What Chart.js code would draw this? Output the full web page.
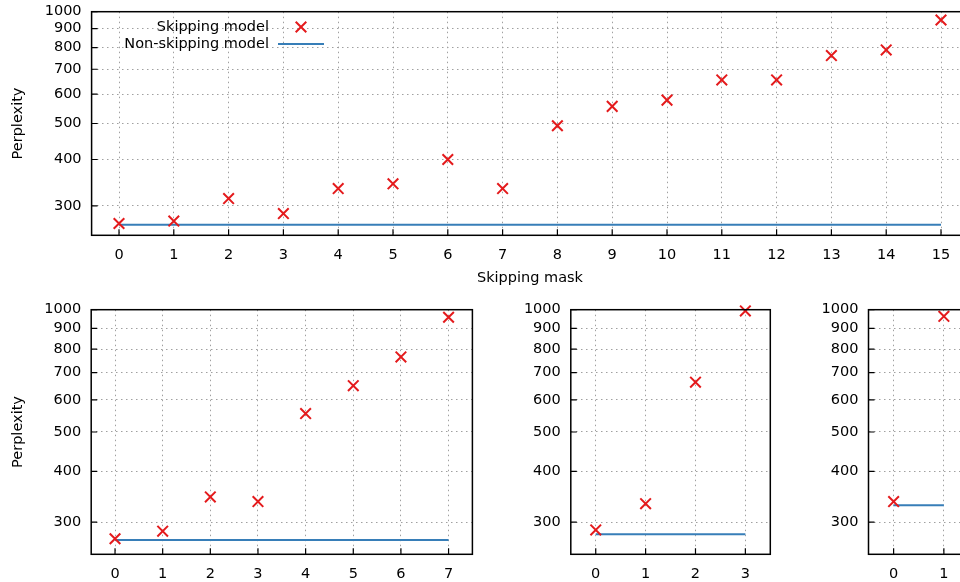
<!DOCTYPE html>
<html><head><meta charset="utf-8">
<script src="https://cdn.jsdelivr.net/npm/chart.js@4/dist/chart.umd.min.js"></script>
<style>
html,body{margin:0;padding:0;width:960px;height:582px;overflow:hidden;background:#fff;position:relative;}
.wrap{position:absolute;}
.wrap canvas{display:block;}
</style></head><body>
<div class="wrap" id="wTop" style="left:0px;top:0px;width:970px;height:295px"><canvas id="cTop"></canvas></div>
<div class="wrap" id="wB8" style="left:0px;top:295px;width:480px;height:287px"><canvas id="cB8"></canvas></div>
<div class="wrap" id="wB4" style="left:480px;top:295px;width:300px;height:287px"><canvas id="cB4"></canvas></div>
<div class="wrap" id="wB2" style="left:780px;top:295px;width:200px;height:287px"><canvas id="cB2"></canvas></div>
<script>
// ---- data ----
const masks16 = ['0','1','2','3','4','5','6','7','8','9','10','11','12','13','14','15'];
const skipping16 = [269, 273, 314, 286, 334, 344, 400, 334, 493, 556, 578, 655, 655, 762, 789, 950];
const nonSkipping16 = [267, 267, 267, 267, 267, 267, 267, 267, 267, 267, 267, 267, 267, 267, 267, 267];

const masks8 = ['0','1','2','3','4','5','6','7'];
const skipping8 = [273, 285, 346, 337, 555, 650, 765, 958];
const nonSkipping8 = [271, 271, 271, 271, 271, 271, 271, 271];

const masks4 = ['0','1','2','3'];
const skipping4 = [287, 333, 663, 993];
const nonSkipping4 = [280, 280, 280, 280];

const masks2 = ['0','1'];
const skipping2 = [337, 963];
const nonSkipping2 = [330, 330];

const yTickValues = [300, 400, 500, 600, 700, 800, 900, 1000];
const yMin = 250, yMax = 1000;
const seriesNames = ['Skipping model', 'Non-skipping model'];
const xTitle = 'Skipping mask';
const yTitle = 'Perplexity';

// ---- styles ----
const RED = '#e41a1c', BLUE = '#377eb8', GRID = '#a0a0a0';
const FS = 14.5;
Chart.defaults.font.family = "'DejaVu Sans', sans-serif";
Chart.defaults.font.size = FS;
Chart.defaults.color = '#000';
Chart.defaults.animation = false;

const framePlugin = {
  id: 'gpFrame',
  afterDraw(chart) {
    const {ctx, chartArea: a, scales: {x, y}} = chart;
    ctx.save();
    ctx.strokeStyle = '#000';
    ctx.lineWidth = 1.2;
    ctx.beginPath();
    x.ticks.forEach((t, i) => { const px = x.getPixelForTick(i); ctx.moveTo(px, a.bottom); ctx.lineTo(px, a.bottom - 6); });
    y.ticks.forEach(t => { const py = y.getPixelForValue(t.value); ctx.moveTo(a.left, py); ctx.lineTo(a.left + 6, py); });
    ctx.stroke();
    ctx.lineWidth = 1.5;
    ctx.strokeRect(a.left, a.top, a.right - a.left, a.bottom - a.top);
    const lg = chart.options.plugins.gpLegend;
    if (lg && lg.show) {
      ctx.font = FS + "px 'DejaVu Sans', sans-serif";
      ctx.fillStyle = '#000';
      ctx.textAlign = 'right';
      ctx.textBaseline = 'middle';
      const tx = a.left + 177.4, y1 = a.top + 15.3, y2 = a.top + 32.3;
      ctx.fillText(seriesNames[0], tx, y1);
      ctx.fillText(seriesNames[1], tx, y2);
      const mx = a.left + 209.4, h = 5.3;
      ctx.strokeStyle = RED; ctx.lineWidth = 2;
      ctx.beginPath();
      ctx.moveTo(mx - h, y1 - h); ctx.lineTo(mx + h, y1 + h);
      ctx.moveTo(mx - h, y1 + h); ctx.lineTo(mx + h, y1 - h);
      ctx.stroke();
      ctx.strokeStyle = BLUE; ctx.lineWidth = 2;
      ctx.beginPath();
      ctx.moveTo(a.left + 186.4, y2); ctx.lineTo(a.left + 232.4, y2);
      ctx.stroke();
    }
    ctx.restore();
  }
};

function makeChart(id, wrapId, area, labels, skip, nonskip, showX, showY, showLegend) {
  const wrap = document.getElementById(wrapId);
  const L = parseFloat(wrap.style.left), T = parseFloat(wrap.style.top);
  const W = parseFloat(wrap.style.width), H = parseFloat(wrap.style.height);
  return new Chart(document.getElementById(id), {
    type: 'line',
    data: {
      labels: labels,
      datasets: [
        { label: seriesNames[1], data: nonskip, borderColor: BLUE, borderWidth: 2, pointRadius: 0, tension: 0, fill: false, clip: false, order: 2 },
        { label: seriesNames[0], data: skip, showLine: false, pointStyle: 'crossRot', pointRadius: 7.5, pointHoverRadius: 7.5, borderColor: RED, pointBorderColor: RED, pointBorderWidth: 2, backgroundColor: RED, clip: false, order: 1 }
      ]
    },
    options: {
      responsive: true,
      maintainAspectRatio: false,
      animation: false,
      events: [],
      layout: { autoPadding: false, padding: { left: 0, top: area.top - T, right: L + W - area.right, bottom: 0 } },
      plugins: { legend: { display: false }, tooltip: { enabled: false }, gpLegend: { show: showLegend } },
      scales: {
        x: {
          type: 'category', offset: true,
          grid: { display: true, offset: false, drawTicks: false, color: GRID, lineWidth: 1 },
          border: { display: false, dash: [1.5, 3.5] },
          ticks: { padding: 11, maxRotation: 0, autoSkip: false, color: '#000' },
          title: { display: showX, text: xTitle, color: '#000', padding: { top: 0, bottom: 8.2 } },
          afterFit: s => { s.height = T + H - area.bottom; s.paddingLeft = 0; s.paddingRight = 0; }
        },
        y: {
          type: 'logarithmic', min: yMin, max: yMax,
          grid: { display: true, drawTicks: false, color: GRID, lineWidth: 1 },
          border: { display: false, dash: [1.5, 3.5] },
          ticks: { padding: 10, color: '#000', autoSkip: false, callback: v => String(v) },
          afterBuildTicks: s => { s.ticks = yTickValues.map(v => ({ value: v })); },
          title: { display: showY, text: yTitle, color: '#000', padding: { top: 9.6, bottom: 0 } },
          afterFit: s => { s.width = area.left - L; s.paddingTop = 0; s.paddingBottom = 0; }
        }
      }
    },
    plugins: [framePlugin]
  });
}

makeChart('cTop', 'wTop', { left: 91.6, top: 11.7, right: 968.4, bottom: 235.3 }, masks16, skipping16, nonSkipping16, true, true, true);
makeChart('cB8', 'wB8', { left: 91.2, top: 309.7, right: 472.4, bottom: 554.3 }, masks8, skipping8, nonSkipping8, false, true, false);
makeChart('cB4', 'wB4', { left: 570.8, top: 309.7, right: 770.3, bottom: 554.3 }, masks4, skipping4, nonSkipping4, false, false, false);
makeChart('cB2', 'wB2', { left: 868.5, top: 309.7, right: 969, bottom: 554.3 }, masks2, skipping2, nonSkipping2, false, false, false);
</script>
</body></html>
